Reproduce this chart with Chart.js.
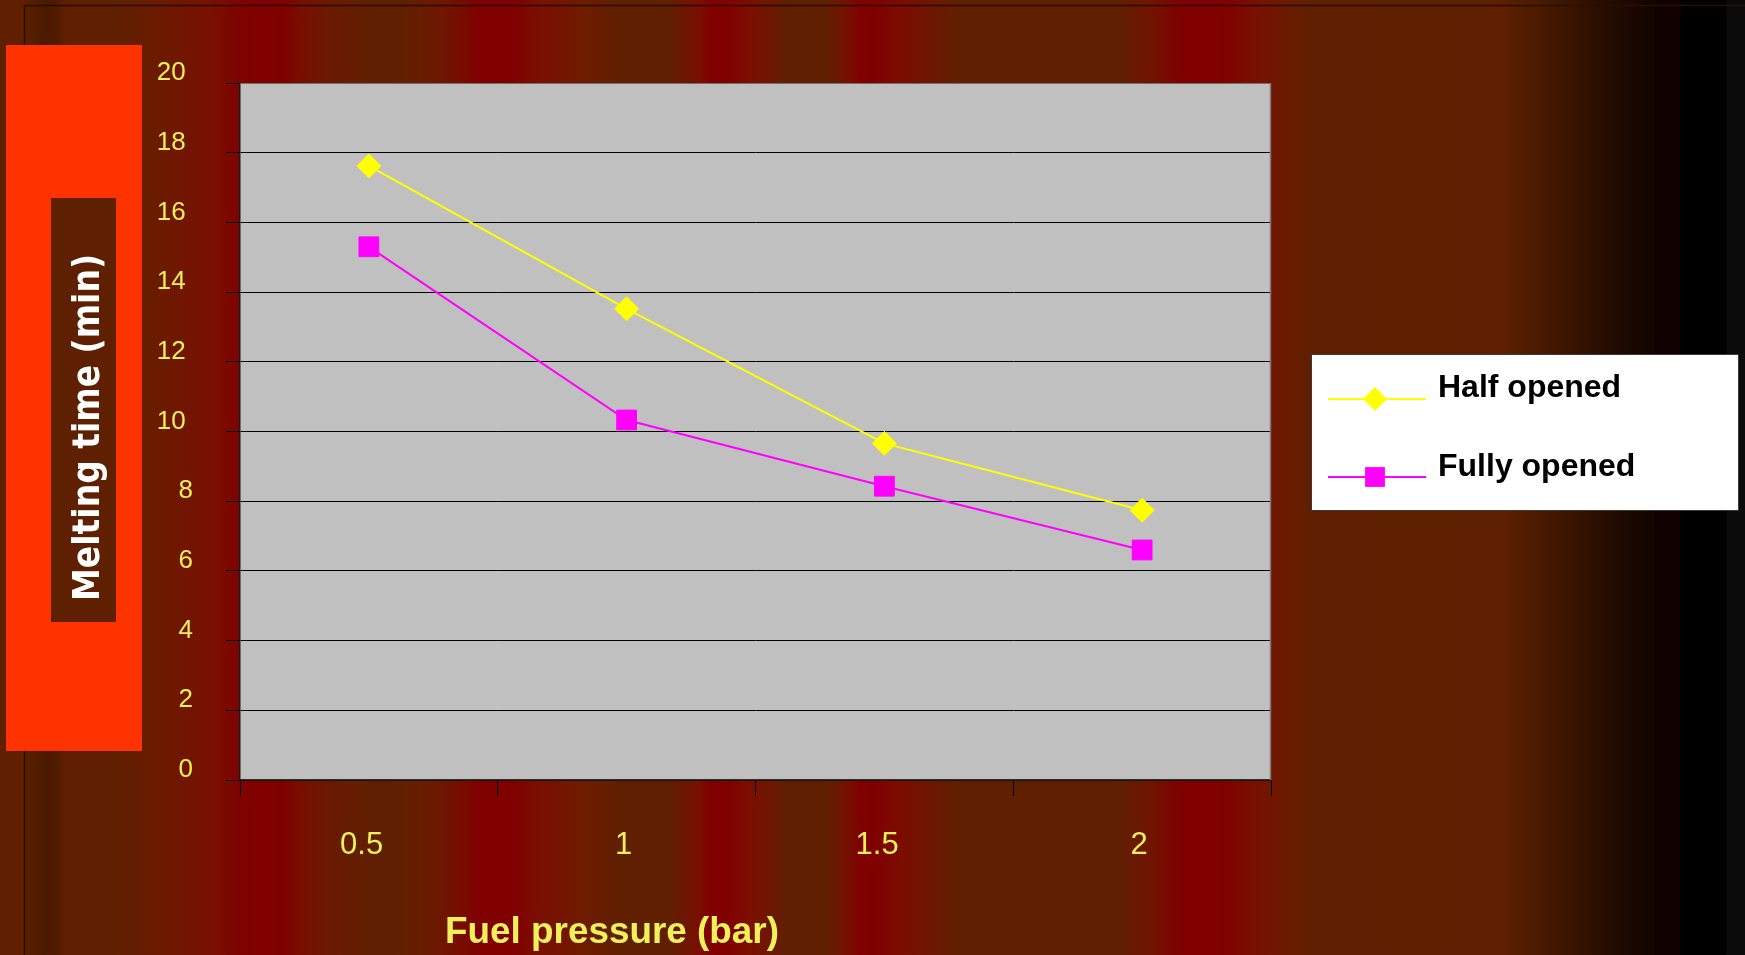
<!DOCTYPE html>
<html>
<head>
<meta charset="utf-8">
<title>Melting time vs fuel pressure</title>
<script src="https://cdn.jsdelivr.net/npm/chart.js@4/dist/chart.umd.min.js"></script>
<style>
  html, body { margin: 0; padding: 0; background: #602000; overflow: hidden; }
  #wrap { width: 1745px; height: 955px; }
  canvas { display: block; }
</style>
</head>
<body>
<div id="wrap"><canvas id="chart" width="1745" height="955"></canvas></div>
<script>
// ---- data ----
const pressures = ['0.5', '1', '1.5', '2'];
const halfOpened = [17.62, 13.52, 9.66, 7.74];
const fullyOpened = [15.3, 10.33, 8.43, 6.6];
const yTickValues = [0, 2, 4, 6, 8, 10, 12, 14, 16, 18, 20];
const seriesNames = ['Half opened', 'Fully opened'];
const yAxisTitle = 'Melting time (min)';
const xAxisTitle = 'Fuel pressure (bar)';

// ---- styling ----
const LABEL_YELLOW = '#F0F05A';
const SANS = '"Liberation Sans", Arial, sans-serif';

// vertical stripes of the slide background (x in px, colour)
const stripeStops = [
  [0, '#602000'], [24, '#602000'], [26, '#5A1E00'], [45, '#4C1A00'], [56, '#4E1B00'],
  [66, '#602000'], [115, '#602000'], [160, '#6C1A00'], [210, '#781000'], [249, '#800000'],
  [283, '#800000'], [300, '#780E00'], [330, '#6A1A00'], [370, '#602000'], [395, '#602000'],
  [440, '#6E1800'], [482, '#800000'], [513, '#800000'], [540, '#7A1000'], [580, '#701A00'],
  [618, '#602000'], [668, '#602000'], [700, '#7A0E00'], [712, '#800000'], [725, '#800000'],
  [750, '#7C0E00'], [787, '#602000'], [825, '#602000'], [850, '#780E00'], [861, '#800000'],
  [873, '#800000'], [900, '#7C0C00'], [930, '#6E1600'], [958, '#602000'], [1116, '#602000'],
  [1150, '#701400'], [1182, '#800000'], [1225, '#800000'], [1250, '#7A0E00'], [1291, '#6A1C00'],
  [1310, '#602000'], [1500, '#5E2000'], [1540, '#4A1A00'], [1580, '#341200'], [1620, '#200A00'],
  [1655, '#120400'], [1656, '#100000'], [1680, '#100000'], [1681, '#000000'], [1726, '#000000'],
  [1727, '#0B0B0B'], [1745, '#0B0B0B']
];

function drawFitted(ctx, text, font, targetWidth) {
  ctx.font = font;
  const w = ctx.measureText(text).width;
  ctx.save();
  ctx.scale(targetWidth / w, 1);
  ctx.fillText(text, 0, 0);
  ctx.restore();
}

function drawMarker(ctx, style, x, y, r, color) {
  ctx.fillStyle = color;
  ctx.beginPath();
  if (style === 'rectRot') {
    ctx.moveTo(x, y - r);
    ctx.lineTo(x + r, y);
    ctx.lineTo(x, y + r);
    ctx.lineTo(x - r, y);
    ctx.closePath();
  } else {
    const s = r * Math.SQRT1_2;
    ctx.rect(x - s, y - s, 2 * s, 2 * s);
  }
  ctx.fill();
}

// multi-character labels get a trailing space so they sit like the original layout
const padLabel = s => (s.length > 1 ? s + ' ' : s);

// slide background, side panel with the value-axis title, plot fill
const slidePlugin = {
  id: 'slide',
  beforeDraw(chart) {
    const {ctx, width, height, chartArea} = chart;
    ctx.save();
    const g = ctx.createLinearGradient(0, 0, width, 0);
    stripeStops.forEach(([x, c]) => g.addColorStop(x / width, c));
    ctx.fillStyle = g;
    ctx.fillRect(0, 0, width, height);

    // thin frame line
    ctx.strokeStyle = '#2B0D00';
    ctx.lineWidth = 1.5;
    ctx.beginPath();
    ctx.moveTo(24.5, height);
    ctx.lineTo(24.5, 5.5);
    ctx.lineTo(width, 5.5);
    ctx.stroke();

    // title panel
    ctx.fillStyle = '#FF3300';
    ctx.fillRect(6, 45, 136, 706);
    ctx.fillStyle = '#5E2000';
    ctx.fillRect(51, 198, 65, 424);
    ctx.fillStyle = '#FFFFFF';
    ctx.textAlign = 'center';
    ctx.textBaseline = 'alphabetic';
    ctx.translate(99, 427.5);
    ctx.rotate(-Math.PI / 2);
    drawFitted(ctx, yAxisTitle, 'bold 38px "DejaVu Sans", sans-serif', 347);
    ctx.restore();

    // plot area fill
    ctx.save();
    ctx.fillStyle = '#C0C0C0';
    ctx.fillRect(chartArea.left, chartArea.top, chartArea.right - chartArea.left, chartArea.bottom - chartArea.top);
    ctx.restore();
  },
  afterDraw(chart) {
    const {ctx, chartArea} = chart;
    ctx.save();
    // right edge of the plot area
    ctx.strokeStyle = '#7A7A7A';
    ctx.lineWidth = 1.5;
    ctx.beginPath();
    ctx.moveTo(chartArea.right - 0.5, chartArea.top);
    ctx.lineTo(chartArea.right - 0.5, chartArea.bottom);
    ctx.stroke();

    // category-axis title
    ctx.fillStyle = LABEL_YELLOW;
    ctx.textAlign = 'center';
    ctx.textBaseline = 'alphabetic';
    ctx.save();
    ctx.translate(612, 943);
    ctx.scale(1, 1.08);
    drawFitted(ctx, xAxisTitle, 'bold 35px ' + SANS, 334);
    ctx.restore();

    // legend box
    ctx.fillStyle = '#FFFFFF';
    ctx.fillRect(1311, 354, 428, 157);
    ctx.strokeStyle = '#3A3A3A';
    ctx.lineWidth = 1;
    ctx.strokeRect(1311.5, 354.5, 427, 156);
    chart.data.datasets.forEach((ds, i) => {
      const y = 399 + i * 78;
      ctx.strokeStyle = ds.borderColor;
      ctx.lineWidth = 2;
      ctx.beginPath();
      ctx.moveTo(1328, y);
      ctx.lineTo(1426, y);
      ctx.stroke();
      drawMarker(ctx, ds.pointStyle, 1375, y, ds.pointRadius, ds.pointBackgroundColor);
      ctx.fillStyle = '#000000';
      ctx.textAlign = 'left';
      ctx.font = 'bold 32px ' + SANS;
      ctx.fillText(ds.label, 1438, 397 + i * 79);
    });
    ctx.restore();
  }
};

const chart = new Chart(document.getElementById('chart'), {
  type: 'line',
  data: {
    labels: pressures,
    datasets: [
      {
        label: seriesNames[0],
        data: halfOpened,
        borderColor: '#FFFF00',
        backgroundColor: '#FFFF00',
        pointBackgroundColor: '#FFFF00',
        pointBorderColor: '#FFFF00',
        pointStyle: 'rectRot',
        pointRadius: 12,
        pointBorderWidth: 1,
        borderWidth: 2,
        tension: 0
      },
      {
        label: seriesNames[1],
        data: fullyOpened,
        borderColor: '#FF00FF',
        backgroundColor: '#FF00FF',
        pointBackgroundColor: '#FF00FF',
        pointBorderColor: '#FF00FF',
        pointStyle: 'rect',
        pointRadius: 14,
        pointBorderWidth: 1,
        borderWidth: 2,
        tension: 0
      }
    ]
  },
  options: {
    responsive: false,
    animation: false,
    devicePixelRatio: 1,
    layout: { padding: { left: 0, top: 83, right: 474, bottom: 0 } },
    plugins: {
      legend: { display: false },
      tooltip: { enabled: false },
      title: { display: false }
    },
    scales: {
      x: {
        type: 'category',
        offset: true,
        afterFit(scale) { scale.height = 175; },
        grid: {
          offset: true,
          drawOnChartArea: false,
          drawTicks: true,
          tickLength: 16,
          color: '#000000',
          lineWidth: 1
        },
        border: { display: true, color: '#2E2E2E', width: 1.5 },
        ticks: {
          color: LABEL_YELLOW,
          font: { family: SANS, size: 31 },
          padding: 30.5,
          labelOffset: -3,
          maxRotation: 0,
          autoSkip: false,
          callback(v) { return padLabel(String(this.getLabelForValue(v))); }
        }
      },
      y: {
        min: 0,
        max: 20,
        afterFit(scale) { scale.width = 240; },
        afterBuildTicks(scale) { scale.ticks = yTickValues.map(v => ({ value: v })); },
        grid: {
          drawTicks: true,
          tickLength: 14,
          color: ctx => (ctx.tick && ctx.tick.value === 20 ? '#707070' : '#000000'),
          tickColor: '#000000',
          lineWidth: 1
        },
        border: { display: true, color: '#1A1A1A', width: 1.5 },
        ticks: {
          color: LABEL_YELLOW,
          font: { family: SANS, size: 26 },
          padding: 33,
          labelOffset: -10,
          callback: v => padLabel(String(v))
        }
      }
    }
  },
  plugins: [slidePlugin]
});
</script>
</body>
</html>
